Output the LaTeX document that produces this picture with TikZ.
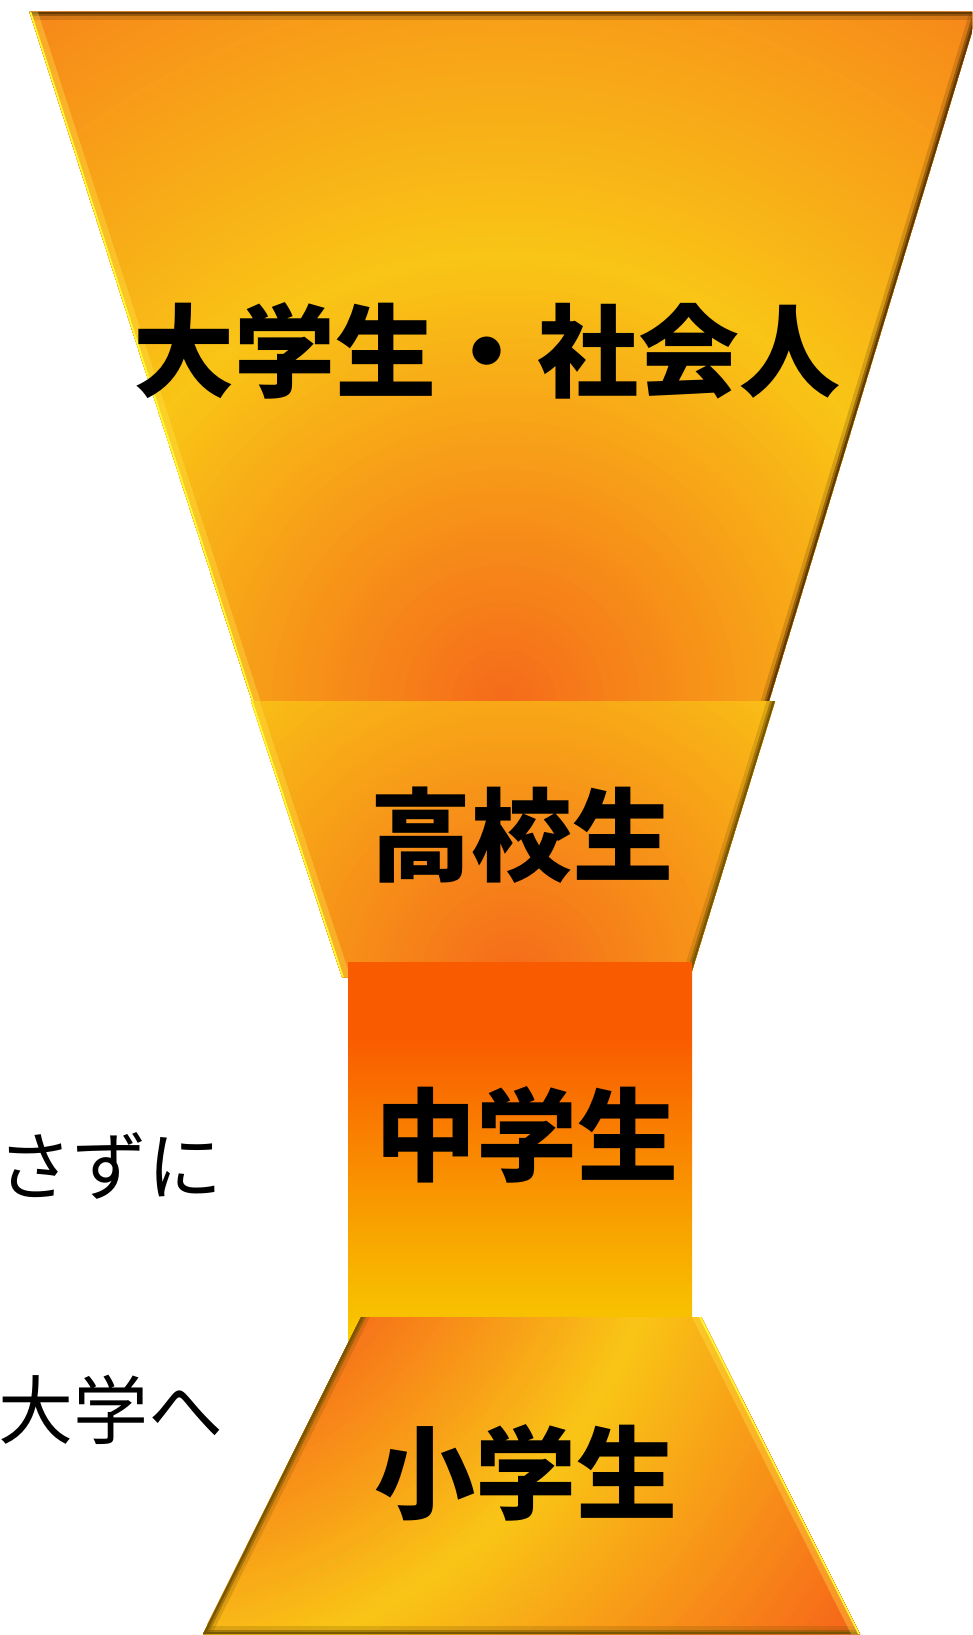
\documentclass[tikz,border=0pt]{standalone}
\usepackage{fontspec}
\newfontfamily\jp{Noto Sans CJK JP}
\definecolor{redor}{HTML}{F56B1A}
\definecolor{yell}{HTML}{F9C516}
\definecolor{oran}{HTML}{F7861A}
\definecolor{oranB}{HTML}{F7741A}
\definecolor{redB}{HTML}{F6621A}
\definecolor{yellM}{HTML}{F9BE16}
\definecolor{bevdark}{HTML}{5E3604}
\definecolor{bevolive}{HTML}{745402}
\definecolor{hl}{HTML}{FFFA30}
\definecolor{hlsoft}{HTML}{FFE84A}
\definecolor{recttop}{HTML}{F95C00}
\definecolor{rectbot}{HTML}{F8D400}
\pgfdeclareverticalshading{rectshade}{100bp}{color(0bp)=(rectbot); color(25bp)=(rectbot); color(28.6bp)=(rectbot!85!recttop); color(40bp)=(rectbot!60!recttop); color(52.5bp)=(rectbot!30!recttop); color(65bp)=(recttop); color(75bp)=(recttop); color(100bp)=(recttop)}
% rings: #1 cx, #2 cy, #3 r0, #4 c0, #5 r1, #6 c1, #7 r2, #8 c2, #9 number of steps (step 6)
\newcommand{\ringfill}[9]{%
  \foreach \k in {0,...,#9}{%
    \pgfmathsetmacro\rr{(#9-\k)*6}%
    \pgfmathtruncatemacro\ta{min(100,max(0,(\rr-#3)/(#5-#3)*100))}%
    \pgfmathtruncatemacro\tb{min(100,max(0,(\rr-#5)/(#7-#5)*100))}%
    \ifdim\rr pt>#5pt
      \colorlet{ringc}{#8!\tb!#6}%
    \else
      \colorlet{ringc}{#6!\ta!#4}%
    \fi
    \fill[ringc] (#1,#2) circle[radius=\rr pt+4pt];
  }}
\newcommand{\darkedge}[3]{%
  \draw[line width=16pt, draw=#1, opacity=.22, shorten <=-20pt, shorten >=-20pt] (#2) -- (#3);
  \draw[line width=9pt, draw=#1, opacity=.5, shorten <=-20pt, shorten >=-20pt] (#2) -- (#3);
  \draw[line width=4.5pt, draw=#1, opacity=.9, shorten <=-20pt, shorten >=-20pt] (#2) -- (#3);}
\newcommand{\litedge}[3]{%
  \draw[line width=16pt, draw=hlsoft, opacity=.35, shorten <=-20pt, shorten >=-20pt] (#1) -- (#2);
  \draw[line width=3.4pt, draw=hl, shift={(#3,0)}, shorten <=-20pt, shorten >=-20pt] (#1) -- (#2);}
\begin{document}
\begin{tikzpicture}[x=1pt,y=-1pt,
  bigtxt/.style={font=\jp\bfseries\fontsize{101}{101}\selectfont, inner sep=0pt, text=black},
  sidetxt/.style={font=\jp\fontsize{75}{75}\selectfont, inner sep=0pt, text=black}]
\useasboundingbox (0,0) rectangle (972,1635);
\clip (0,0) rectangle (972,1635);
% coordinates
\coordinate (T1) at (29.5,12); \coordinate (T2) at (978,12);
\coordinate (T3) at (769,701); \coordinate (T4) at (252,701);
\coordinate (M1) at (251,701); \coordinate (M2) at (775,701);
\coordinate (M3) at (690,977); \coordinate (M4) at (342,977);
\coordinate (B1) at (361,1317); \coordinate (B2) at (701,1317);
\coordinate (B3) at (860,1634); \coordinate (B4) at (203,1634);
% top shape
\begin{scope}
  \clip (T1) -- (T2) -- (T3) -- (T4) -- cycle;
  \ringfill{504}{701}{0}{redor}{440}{yell}{840}{oran}{150}
  \darkedge{bevdark}{T1}{T2}
  \darkedge{bevdark}{T2}{T3}
  \litedge{T1}{T4}{4.5}
\end{scope}
% middle shape
\begin{scope}
  \clip (M1) -- (M2) -- (M3) -- (M4) -- cycle;
  \ringfill{515}{980}{0}{redor}{380}{yellM}{600}{yellM}{80}
  \darkedge{bevolive}{M2}{M3}
  \litedge{M1}{M4}{4.5}
\end{scope}
% rectangle
\shade[shading=rectshade] (348,962) rectangle (692,1345);
% bottom shape
\begin{scope}
  \clip (B1) -- (B2) -- (B3) -- (B4) -- cycle;
  \ringfill{100}{1100}{339}{oranB}{578}{yell}{930}{redB}{165}
  \darkedge{bevolive}{B1}{B4}
  \darkedge{bevolive}{B4}{B3}
  \litedge{B2}{B3}{-4.5}
\end{scope}
% labels
\node[bigtxt] (t1) at (487,351) {大学生・社会人};
\node[bigtxt] (t2) at (522,835) {高校生};
\node[bigtxt] (t3) at (527,1135) {中学生};
\node[bigtxt] (t4) at (526,1473) {小学生};
\node[sidetxt] (s1) at (110,1166) {さずに};
\node[sidetxt] (s2) at (111,1410) {大学へ};
\end{tikzpicture}
\end{document}
